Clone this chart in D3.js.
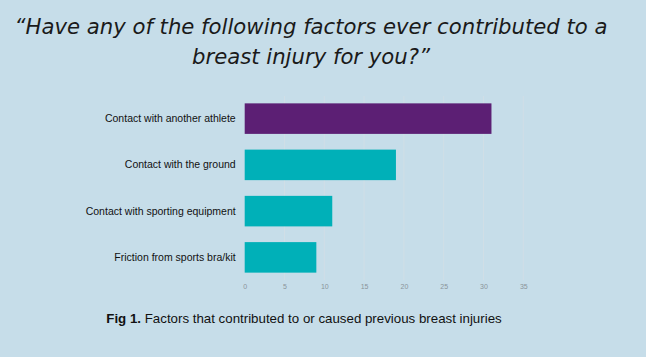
<!DOCTYPE html>
<html><head><meta charset="utf-8">
<script src="https://cdn.jsdelivr.net/npm/d3@7"></script>
<style>html,body{margin:0;padding:0;background:#c6dde9;}svg{display:block;}</style>
</head><body>
<script>
const categories = ["Contact with another athlete","Contact with the ground","Contact with sporting equipment","Friction from sports bra/kit"];
const values = [31, 19, 11, 9];
const barColors = ["#5c1f74", "#00b0b8", "#00b0b8", "#00b0b8"];
const tickValues = [0, 5, 10, 15, 20, 25, 30, 35];
const titleLines = ["\u201CHave any of the following factors ever contributed to a", "breast injury for you?\u201D"];
const captionBold = "Fig 1.";
const captionText = " Factors that contributed to or caused previous breast injuries";

const W = 646, H = 357;
const svg = d3.select("body").append("svg").attr("width", W).attr("height", H);
svg.append("rect").attr("width", W).attr("height", H).attr("fill", "#c6dde9");

const x = d3.scaleLinear().domain([0, 35]).range([244.7, 523.3]);
const y = d3.scaleBand().domain(categories).range([95.5, 280.5]).paddingInner(0.34).paddingOuter(0.17);

// faint gridlines
svg.append("g").selectAll("line").data(tickValues.slice(1)).join("line")
  .attr("x1", d => x(d)).attr("x2", d => x(d)).attr("y1", 96).attr("y2", 280)
  .attr("stroke", "#d0dee6").attr("stroke-width", 1);

svg.append("g").selectAll("rect").data(values).join("rect")
  .attr("x", x(0)).attr("y", (d, i) => y(categories[i]))
  .attr("width", d => x(d) - x(0)).attr("height", y.bandwidth())
  .attr("fill", (d, i) => barColors[i]);

// category labels
const yAxis = d3.axisLeft(y).tickSize(0).tickPadding(9);
const ya = svg.append("g").attr("transform", `translate(${x(0)},0)`).call(yAxis);
ya.select(".domain").remove();
ya.selectAll("text").attr("font-family", "Liberation Sans, Arial, sans-serif").attr("font-size", 10.5).attr("fill", "#111");

// x axis
const xAxis = d3.axisBottom(x).tickValues(tickValues).tickSize(0).tickPadding(0);
const xa = svg.append("g").attr("transform", `translate(0,284)`).call(xAxis);
xa.select(".domain").remove();
xa.selectAll("text").attr("font-family", "Liberation Sans, Arial, sans-serif").attr("font-size", 7).attr("fill", "#8a949a");

// title
const tt = svg.append("g");
titleLines.forEach((t, i) => {
  tt.append("text").attr("x", 311).attr("y", 34 + i * 30)
    .attr("text-anchor", "middle").attr("font-family", "DejaVu Sans, sans-serif")
    .attr("font-style", "italic").attr("font-size", 21).attr("fill", "#1a1a1a").text(t);
});
const nodes = tt.selectAll("text").nodes();
const factor = 593 / nodes[0].getComputedTextLength();
nodes.forEach(n => {
  const w = n.getComputedTextLength();
  d3.select(n).attr("textLength", w * factor).attr("lengthAdjust", "spacingAndGlyphs");
});

// caption
const cap = svg.append("text").attr("x", 304).attr("y", 323).attr("text-anchor", "middle")
  .attr("font-family", "Liberation Sans, Arial, sans-serif").attr("font-size", 13.3).attr("fill", "#111");
cap.append("tspan").attr("font-weight", "bold").text(captionBold);
cap.append("tspan").text(captionText);
</script>
</body></html>
